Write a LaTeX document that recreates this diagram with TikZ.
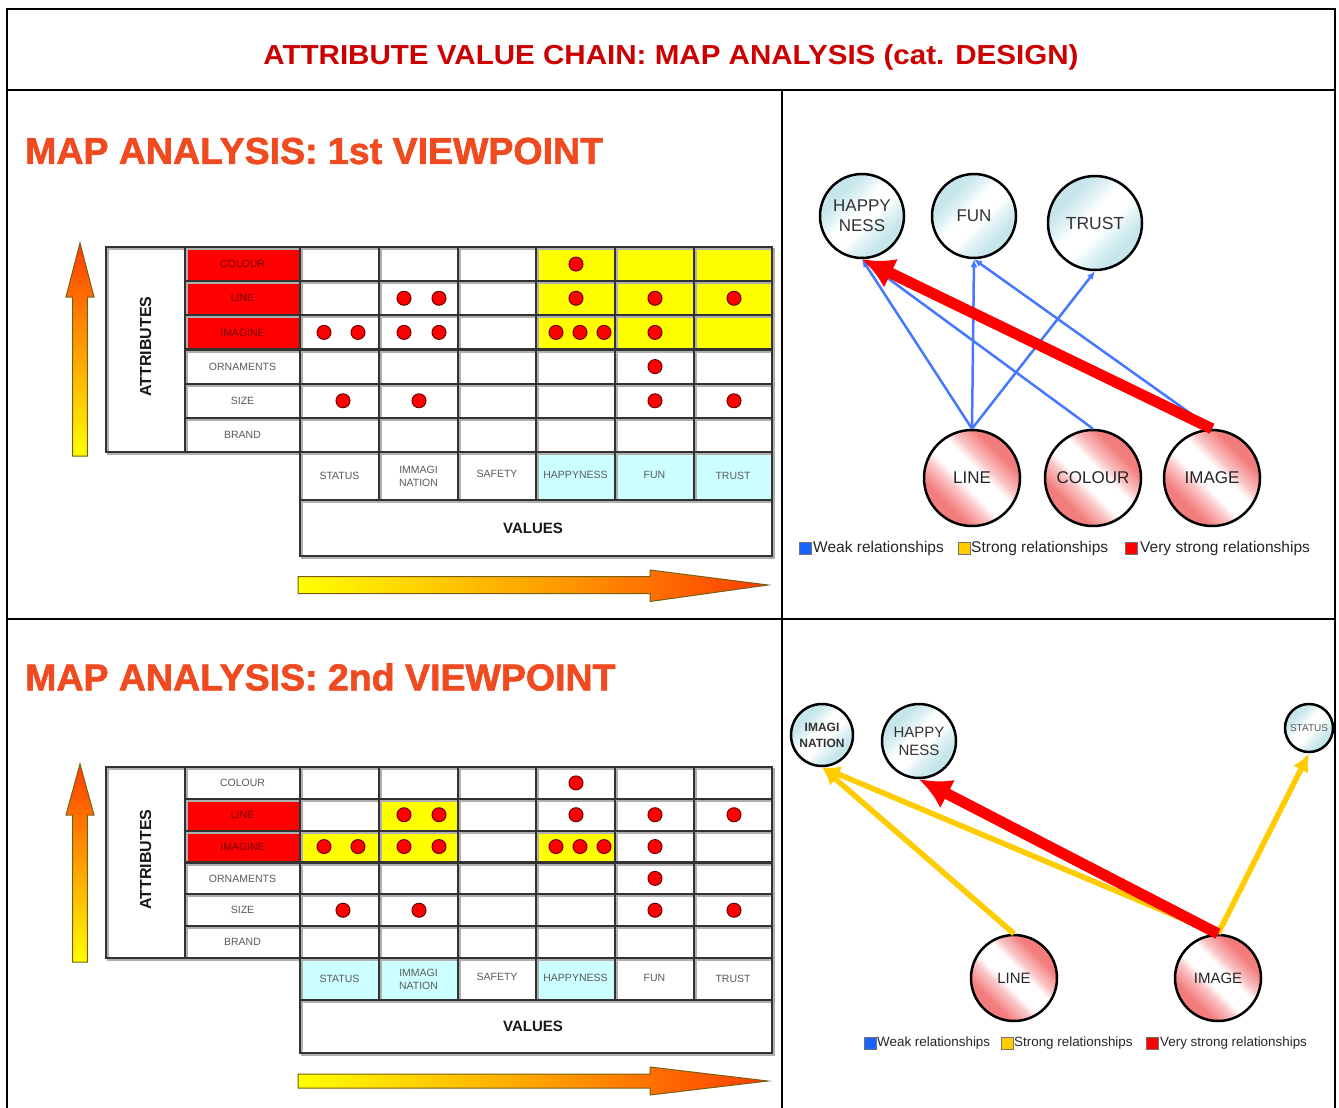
\documentclass[tikz,border=0pt]{standalone}
\usepackage{fontspec}
\usepackage{graphicx}
\setmainfont{Liberation Sans}
\newfontfamily\heavyfont[BoldFeatures={FakeBold=1.6}]{Liberation Sans}
\usetikzlibrary{arrows.meta}

\definecolor{titlered}{RGB}{204,0,0}
\definecolor{headorange}{RGB}{240,74,32}
\definecolor{cellred}{RGB}{255,0,0}
\definecolor{cellyellow}{RGB}{255,255,0}
\definecolor{cellcyan}{RGB}{204,255,255}
\definecolor{gridgray}{RGB}{50,50,50}
\definecolor{gridshadow}{RGB}{175,175,175}
\definecolor{labelgray}{RGB}{90,90,90}
\definecolor{labelmaroon}{RGB}{120,0,0}
\definecolor{weakblue}{RGB}{70,120,255}
\definecolor{strongyellow}{RGB}{255,204,0}
\definecolor{vstrongred}{RGB}{255,0,0}
\definecolor{pinkedge}{RGB}{243,125,125}
\definecolor{pinkmid}{RGB}{250,195,195}
\definecolor{cyanedge}{RGB}{198,230,235}
\definecolor{cyanmid}{RGB}{228,244,246}
\definecolor{arrowedge}{RGB}{120,95,20}
\definecolor{arrowred}{RGB}{255,60,0}
\definecolor{arroworange}{RGB}{255,165,0}
\definecolor{dotedge}{RGB}{110,0,0}
\definecolor{legblue}{RGB}{25,100,255}

% diagonal band shadings for the circles of the maps
\pgfdeclarehorizontalshading{pinkband}{100bp}{color(0bp)=(pinkedge); color(31bp)=(pinkedge); color(40bp)=(pinkmid); color(45bp)=(white); color(55bp)=(white); color(60bp)=(pinkmid); color(69bp)=(pinkedge); color(100bp)=(pinkedge)}
\pgfdeclarehorizontalshading{cyanband}{100bp}{color(0bp)=(cyanedge); color(31bp)=(cyanedge); color(40bp)=(cyanmid); color(45bp)=(white); color(55bp)=(white); color(60bp)=(cyanmid); color(69bp)=(cyanedge); color(100bp)=(cyanedge)}

\newcommand\pxfont[2]{\fontsize{#1}{#2}\selectfont}

\tikzset{
  frame/.style={draw=black, line width=2pt},
  celllabel/.style={font=\pxfont{10.5}{13}, inner sep=0pt, align=center},
  hdr/.style={font=\pxfont{10.5}{13}, text=labelgray, inner sep=0pt, align=center},
  boldlabel/.style={font=\bfseries\pxfont{16}{18}, text=black!90, inner sep=0pt},
  dotmark/.style={fill=cellred, draw=dotedge, line width=1pt},
  valnode/.style={circle, draw=black, line width=2.5pt, inner sep=0pt, shade, shading=cyanband, shading angle=-45, text=black!80, align=center},
  attrnode/.style={circle, draw=black, line width=2.5pt, inner sep=0pt, shade, shading=pinkband, shading angle=45, text=black!85, align=center},
  weak/.style={draw=weakblue, line width=2.5pt, -{Latex[length=8pt,width=7pt]}},
  strong/.style={draw=strongyellow, line width=5.5pt, -{Latex[length=18pt,width=17pt]}},
  vstrong/.style={draw=vstrongred, line width=11pt, -{Latex[length=32pt,width=32pt]}},
  legsq/.style={draw=black!55, line width=0.8pt, minimum size=12pt, inner sep=0pt},
  legtxt/.style={anchor=west, inner sep=0pt, text=black!85},
  heading/.style={anchor=west, inner sep=0pt, font=\heavyfont\bfseries\pxfont{37.5}{40}, text=headorange},
}

% grid, row labels and column labels of one attribute/value table
% #1 name prefix, #2 top, #3 row height, #4 header bottom, #5 values bottom, #6 colour of the COLOUR label
\newcommand\attrtable[6]{%
  \pgfmathsetmacro\tb{#2+6*#3}%
  \pgfmathsetmacro\hy{(\tb+#4)/2}%
  \pgfmathsetmacro\vy{(#4+#5)/2}%
  \foreach \dx/\col in {2/gridshadow,0/gridgray}{%
    \begin{scope}[shift={(\dx,\dx)}, color=\col, line width=2.2pt]
      \draw (106,#2) rectangle (772,\tb);
      \foreach \i in {1,...,5} \draw (185,{#2+\i*#3}) -- (772,{#2+\i*#3});
      \draw (185,#2) -- (185,\tb);
      \draw (300,#2) -- (300,#5) -- (772,#5) -- (772,\tb);
      \draw (300,#4) -- (772,#4);
      \foreach \x in {379,458,536,615,694} \draw (\x,#2) -- (\x,#4);
    \end{scope}
  }%
  \foreach \lbl/\k/\c in {COLOUR/0/#6, LINE/1/labelmaroon, IMAGINE/2/labelmaroon, ORNAMENTS/3/labelgray, SIZE/4/labelgray, BRAND/5/labelgray}
    \node[celllabel, text=\c] (#1-attr\k) at (242.5,{#2+(\k+0.5)*#3}) {\lbl};
  \node[hdr] (#1-v1) at (339.5,\hy) {STATUS};
  \node[hdr] (#1-v2) at (418.5,\hy) {IMMAGI\\NATION};
  \node[hdr] (#1-v3) at (497,{\hy-2}) {SAFETY};
  \node[hdr] (#1-v4) at (575.5,{\hy-1}) {HAPPYNESS};
  \node[hdr] (#1-v5) at (654.5,{\hy-1}) {FUN};
  \node[hdr] (#1-v6) at (733,\hy) {TRUST};
  \node[boldlabel, font=\bfseries\pxfont{15}{18}] (#1-values) at (533,\vy) {VALUES};
  \node[boldlabel, rotate=90] (#1-attrs) at (145.5,{#2+3*#3-3}) {ATTRIBUTES};
}

% the red dots of one table: #1 top, #2 row height
\newcommand\attrdots[2]{%
  \foreach \x/\r in {576/0, 404/1, 439/1, 576/1, 655/1, 734/1, 324/2, 358/2, 404/2, 439/2, 556/2, 580/2, 604/2, 655/2, 655/3, 343/4, 419/4, 655/4, 734/4}
    \filldraw[dotmark] (\x,{#1+(\r+0.5)*#2}) circle[radius=7];
}

\begin{document}
\begin{tikzpicture}[x=1pt,y=-1pt]
\useasboundingbox[fill=white] (0,0) rectangle (1339,1108);

% ---------- frame and title ----------
\draw[frame] (7,1108) -- (7,9) -- (1335,9) -- (1335,1108);
\draw[frame] (7,90) -- (1335,90);
\draw[frame] (782,90) -- (782,1108);
\draw[frame] (7,619) -- (1335,619);
\node[font=\bfseries\pxfont{27.5}{30}, text=titlered, inner sep=0pt] (title) at (671,57)
  {\scalebox{1.075}[1]{ATTRIBUTE VALUE CHAIN: MAP ANALYSIS (cat. DESIGN)}};

% ---------- first viewpoint: table ----------
\node[heading] (head1) at (25,151) {MAP ANALYSIS: 1st VIEWPOINT};
\fill[cellred] (185,247) rectangle (300,{247+3*34.17});
\fill[cellyellow] (536,247) rectangle (772,{247+3*34.17});
\fill[cellcyan] (536,452) rectangle (772,500);
\attrtable{ta}{247}{34.17}{500}{556}{labelmaroon}
\attrdots{247}{34.17}
\shadedraw[bottom color=yellow, middle color=arroworange, top color=arrowred, draw=arrowedge, line width=1pt]
  (72.7,456) -- (72.7,297) -- (66,297) -- (80,243) -- (94,297) -- (87.3,297) -- (87.3,456) -- cycle;
\shadedraw[left color=yellow, right color=arrowred, middle color=arroworange, draw=arrowedge, line width=1pt]
  (298,576.5) -- (650,576.5) -- (650,570) -- (768,585) -- (650,601.5) -- (650,593.5) -- (298,593.5) -- cycle;

% ---------- first viewpoint: map ----------
\node[valnode, minimum size=84pt, font=\pxfont{17}{20}] (happy1) at (862,216) {HAPPY\\NESS};
\node[valnode, minimum size=84pt, font=\pxfont{17}{20}] (fun1) at (974,216) {FUN};
\node[valnode, minimum size=94pt, font=\pxfont{17.5}{20}] (trust1) at (1095,223) {TRUST};
\node[attrnode, minimum size=96pt, font=\pxfont{17}{20}] (line1) at (972,478) {LINE};
\node[attrnode, minimum size=96pt, font=\pxfont{17}{20}] (colour1) at (1093,478) {COLOUR};
\node[attrnode, minimum size=96pt, font=\pxfont{17}{20}] (image1) at (1212,478) {IMAGE};
\draw[weak] (line1.north) -- (happy1.south);
\draw[weak] (line1.north) -- (fun1.south);
\draw[weak] (line1.north) -- (trust1.south);
\draw[weak] (colour1.north) -- (happy1.south);
\draw[weak] (image1.north) -- (fun1.south);
\draw[vstrong] (image1.north) -- (happy1.south);

\node[legsq, fill=legblue] (leg1a) at (805,548) {};
\node[legtxt, font=\pxfont{15.5}{18}] (leg1at) at (813,548) {Weak relationships};
\node[legsq, fill=strongyellow] (leg1b) at (964,548) {};
\node[legtxt, font=\pxfont{15.5}{18}] (leg1bt) at (971,548) {Strong relationships};
\node[legsq, fill=vstrongred] (leg1c) at (1131.5,548) {};
\node[legtxt, font=\pxfont{15.5}{18}] (leg1ct) at (1140,548) {Very strong relationships};

% ---------- second viewpoint: table ----------
\node[heading] (head2) at (25,677) {MAP ANALYSIS: 2nd VIEWPOINT};
\fill[cellred] (185,{767+31.83}) rectangle (300,{767+3*31.83});
\fill[cellyellow] (379,{767+31.83}) rectangle (458,{767+2*31.83});
\fill[cellyellow] (300,{767+2*31.83}) rectangle (458,{767+3*31.83});
\fill[cellyellow] (536,{767+2*31.83}) rectangle (615,{767+3*31.83});
\fill[cellcyan] (300,958) rectangle (458,1000);
\fill[cellcyan] (536,958) rectangle (615,1000);
\attrtable{tb}{767}{31.83}{1000}{1053}{labelgray}
\attrdots{767}{31.83}
\shadedraw[bottom color=yellow, middle color=arroworange, top color=arrowred, draw=arrowedge, line width=1pt]
  (72.7,962) -- (72.7,815) -- (66,815) -- (80,764) -- (94,815) -- (87.3,815) -- (87.3,962) -- cycle;
\shadedraw[left color=yellow, right color=arrowred, middle color=arroworange, draw=arrowedge, line width=1pt]
  (298,1074) -- (650,1074) -- (650,1067) -- (768,1081) -- (650,1095) -- (650,1088) -- (298,1088) -- cycle;

% ---------- second viewpoint: map ----------
\node[valnode, minimum size=62pt, font=\bfseries\pxfont{12}{16}] (imagi2) at (822,735) {IMAGI\\NATION};
\node[valnode, minimum size=74pt, font=\pxfont{15}{18}] (happy2) at (919,741) {HAPPY\\NESS};
\node[valnode, minimum size=48pt, font=\pxfont{10}{12}, text=labelgray] (status2) at (1309,728) {STATUS};
\node[attrnode, minimum size=86pt, font=\pxfont{15}{18}] (line2) at (1014,978) {LINE};
\node[attrnode, minimum size=86pt, font=\pxfont{15}{18}] (image2) at (1218,978) {IMAGE};
\draw[strong] (line2.north) -- (imagi2.south);
\draw[strong] (image2.north) -- (imagi2.south);
\draw[strong] (image2.north) -- (status2.south);
\draw[vstrong] (image2.north) -- (happy2.south);

\node[legsq, fill=legblue] (leg2a) at (870,1043) {};
\node[legtxt, font=\pxfont{13.4}{16}] (leg2at) at (877,1043) {Weak relationships};
\node[legsq, fill=strongyellow] (leg2b) at (1007.5,1043) {};
\node[legtxt, font=\pxfont{13.4}{16}] (leg2bt) at (1014,1043) {Strong relationships};
\node[legsq, fill=vstrongred] (leg2c) at (1152.5,1043) {};
\node[legtxt, font=\pxfont{13.4}{16}] (leg2ct) at (1160,1043) {Very strong relationships};
\end{tikzpicture}
\end{document}
